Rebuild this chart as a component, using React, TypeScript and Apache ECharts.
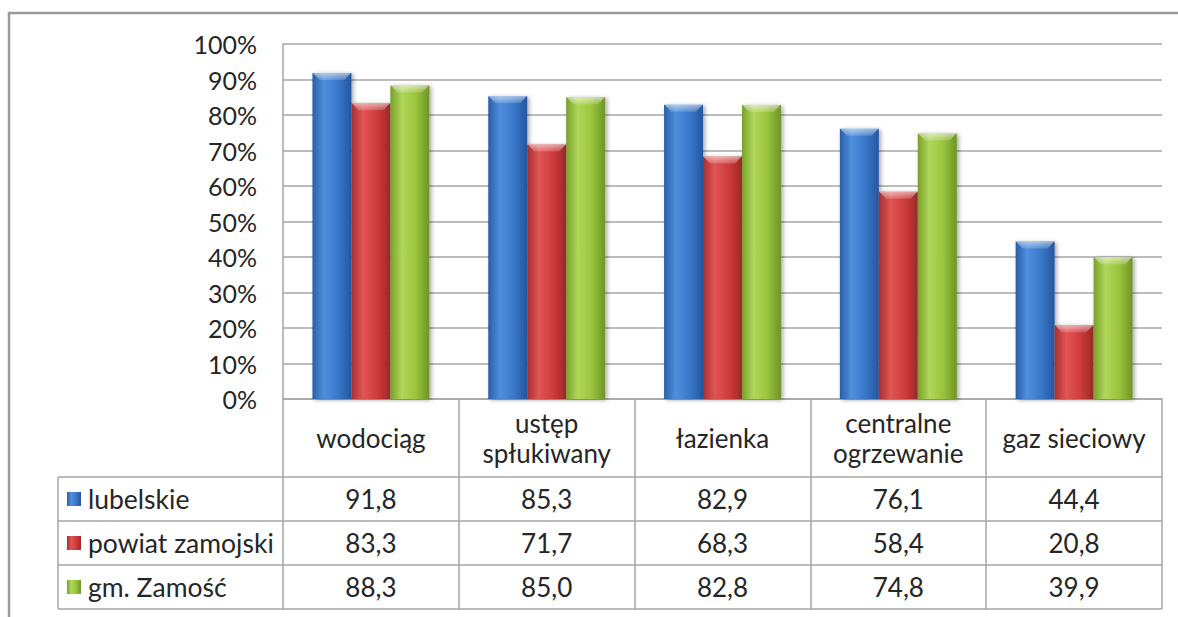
import React, { useEffect, useRef } from "react";
import * as echarts from "echarts";

const categories = ["wodociąg", "ustęp\nspłukiwany", "łazienka", "centralne\nogrzewanie", "gaz sieciowy"];
const seriesNames = ["lubelskie", "powiat zamojski", "gm. Zamość"];
const lubelskie = [91.8, 85.3, 82.9, 76.1, 44.4];
const powiatZamojski = [83.3, 71.7, 68.3, 58.4, 20.8];
const gmZamosc = [88.3, 85.0, 82.8, 74.8, 39.9];
const seriesValues = [lubelskie, powiatZamojski, gmZamosc];
const yTicks = { min: 0, max: 100, interval: 10 };

const palettes = [
  ["#2a5ea8", "#4f8fdd", "#3a78c9", "#2456a0"],
  ["#a92e2e", "#e05555", "#cf3c3c", "#9c2828"],
  ["#78a02a", "#b0d65a", "#9bc43e", "#6f9426"],
];

const FONT = "Lato, 'Open Sans', sans-serif";
const GRID_COLOR = "#a6a6a6";
const TEXT_COLOR = "#262626";
const BAR_CATEGORY_GAP = 0.335;

function grad(p: string[]) {
  return new echarts.graphic.LinearGradient(0, 0, 1, 0, [
    { offset: 0, color: p[0] },
    { offset: 0.3, color: p[1] },
    { offset: 0.65, color: p[2] },
    { offset: 1, color: p[3] },
  ]);
}

function fmt(v: number) {
  return v.toFixed(1).replace(".", ",");
}

export default function App() {
  const ref = useRef<HTMLDivElement>(null);
  useEffect(() => {
    if (!ref.current) return;
    const chart = echarts.init(ref.current, undefined, { renderer: "svg" });
    const gridLeft = 283;
    const gridRight = 1178 - 1162;
    const gridTop = 44;
    const axisY = 399;
    const rowH = 44;
    const headerBottom = 477;
    const tableLeft = 58;
    const tableRight = 1162;

    const nSeries = seriesValues.length;
    const capSeries = seriesValues.map((vals, s) => ({
      type: "custom",
      silent: true,
      z: 5,
      data: vals.map((v, i) => [i, v]),
      renderItem: (params: any, api: any) => {
        const i = api.value(0);
        const v = api.value(1);
        const top = api.coord([i, v]);
        const catW = api.size([1, 0])[0];
        const bw = (catW * (1 - BAR_CATEGORY_GAP)) / nSeries;
        const x0 = top[0] - (bw * nSeries) / 2 + s * bw;
        const x1 = x0 + bw;
        const y = top[1];
        const d = 7;
        return {
          type: "polygon",
          shape: {
            points: [
              [x0 + 0.5, y],
              [x1 - 0.5, y],
              [x1 - d, y + d],
              [x0 + d, y + d],
            ],
          },
          style: {
            fill: new echarts.graphic.LinearGradient(0, 0, 0, 1, [
              { offset: 0, color: "rgba(255,255,255,0.55)" },
              { offset: 1, color: "rgba(255,255,255,0.15)" },
            ]),
          },
        };
      },
    }));

    chart.setOption({
      animation: false,
      backgroundColor: "#ffffff",
      grid: { left: gridLeft, right: gridRight, top: gridTop, bottom: 617 - axisY, containLabel: false },
      xAxis: {
        type: "category",
        data: categories,
        axisLine: { show: true, lineStyle: { color: GRID_COLOR, width: 1.5 } },
        axisTick: { show: true, length: 210, interval: 0, lineStyle: { color: GRID_COLOR, width: 1.5 } },
        axisLabel: {
          interval: 0,
          margin: 39,
          verticalAlign: "middle",
          lineHeight: 30,
          fontSize: 26,
          fontFamily: FONT,
          color: TEXT_COLOR,
        },
        splitLine: { show: false },
      },
      yAxis: {
        type: "value",
        min: yTicks.min,
        max: yTicks.max,
        interval: yTicks.interval,
        axisLine: { show: true, lineStyle: { color: GRID_COLOR, width: 1.5 } },
        axisTick: { show: false },
        axisLabel: {
          margin: 26,
          fontSize: 25,
          fontFamily: FONT,
          color: TEXT_COLOR,
          formatter: "{value}%",
        },
        splitLine: { show: true, lineStyle: { color: GRID_COLOR, width: 1.5 } },
      },
      series: [
        ...seriesValues.map((vals, s) => ({
          name: seriesNames[s],
          type: "bar",
          data: vals,
          barGap: "0%",
          barCategoryGap: `${BAR_CATEGORY_GAP * 100}%`,
          itemStyle: {
            color: grad(palettes[s]),
            shadowColor: "rgba(0,0,0,0.35)",
            shadowBlur: 4,
            shadowOffsetX: 2,
            shadowOffsetY: 1,
          },
        })),
        ...capSeries,
      ],
    });

    const graphics: any[] = [];
    graphics.push({
      type: "rect",
      shape: { x: 9, y: 13, width: 1300, height: 800 },
      style: { fill: "none", stroke: "#9a9a9a", lineWidth: 2.5 },
      silent: true,
    });
    for (let r = 0; r <= 3; r++) {
      const y = headerBottom + r * rowH;
      graphics.push({
        type: "line",
        shape: { x1: tableLeft, y1: y, x2: tableRight, y2: y },
        style: { stroke: GRID_COLOR, lineWidth: 1.5 },
        silent: true,
      });
    }
    graphics.push({
      type: "line",
      shape: { x1: tableLeft, y1: headerBottom, x2: tableLeft, y2: headerBottom + 3 * rowH },
      style: { stroke: GRID_COLOR, lineWidth: 1.5 },
      silent: true,
    });
    seriesValues.forEach((vals, s) => {
      const cy = headerBottom + s * rowH + rowH / 2;
      graphics.push({
        type: "rect",
        shape: { x: 67, y: cy - 7, width: 14, height: 14 },
        style: { fill: grad(palettes[s]) },
        silent: true,
      });
      graphics.push({
        type: "text",
        x: 88,
        y: cy,
        style: {
          text: seriesNames[s],
          font: `26.5px ${FONT}`,
          fill: TEXT_COLOR,
          textAlign: "left",
          textVerticalAlign: "middle",
        },
        silent: true,
      });
      vals.forEach((v, i) => {
        const px = chart.convertToPixel({ xAxisIndex: 0 }, i) as number;
        graphics.push({
          type: "text",
          x: px,
          y: cy,
          style: {
            text: fmt(v),
            font: `26px ${FONT}`,
            fill: TEXT_COLOR,
            textAlign: "center",
            textVerticalAlign: "middle",
          },
          silent: true,
        });
      });
    });
    chart.setOption({ graphic: graphics });

    return () => chart.dispose();
  }, []);
  return <div ref={ref} style={{ position: "fixed", left: 0, top: 0, width: 1178, height: 617 }} />;
}
